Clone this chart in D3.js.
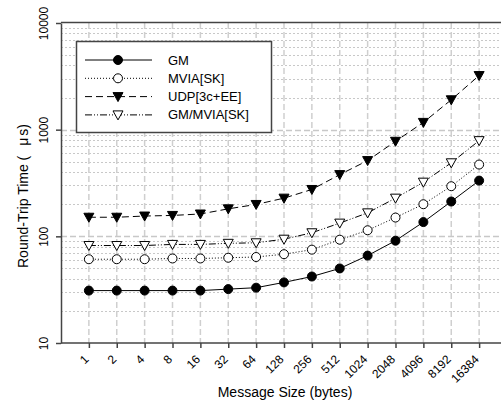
<!DOCTYPE html>
<html>
<head>
<meta charset="utf-8">
<script src="https://cdn.jsdelivr.net/npm/d3@7"></script>
<style>
  body { margin: 0; background: #fff; }
  svg { display: block; font-family: "Liberation Sans", Arial, sans-serif; }
</style>
</head>
<body>
<div id="app"></div>
<script>
const sizes = ["1", "2", "4", "8", "16", "32", "64", "128", "256", "512", "1024", "2048", "4096", "8192", "16384"];
const gm = [31, 31, 31, 31, 31, 32, 33, 37, 42, 50, 66, 91, 136, 212, 333];
const mvia = [61, 61, 61, 62, 62, 63, 64, 68, 75, 93, 114, 150, 200, 295, 471];
const udp = [151, 151, 155, 157, 162, 181, 199, 228, 275, 379, 513, 778, 1170, 1906, 3216];
const gmMvia = [82, 82, 82, 84, 84, 86, 87, 94, 108, 133, 166, 228, 322, 489, 789];
const yTicks = [10, 100, 1000, 10000];

const series = [
  { name: "GM", values: gm, dash: null, marker: "circle", fill: "#000" },
  { name: "MVIA[SK]", values: mvia, dash: "1,2", marker: "circle", fill: "#fff" },
  { name: "UDP[3c+EE]", values: udp, dash: "7,4", marker: "down", fill: "#000" },
  { name: "GM/MVIA[SK]", values: gmMvia, dash: "7,2,1,2,1,2", marker: "down", fill: "#fff" },
];

const width = 501, height = 403;
const margin = { top: 23, left: 61, bottom: 343 };

const svg = d3.select("#app").append("svg")
  .attr("width", width).attr("height", height);

const x = d3.scalePoint().domain(sizes).range([margin.left, 507]).padding(1);
const y = d3.scaleLog().domain([10, 10000]).range([margin.bottom, margin.top]);

// grid
const minor = [];
for (let d = 10; d < 10000; d *= 10) for (let k = 2; k <= 9; k++) minor.push(d * k);
svg.append("g").selectAll("line").data(minor).join("line")
  .attr("x1", margin.left).attr("x2", width)
  .attr("y1", d => Math.round(y(d)) + 0.5).attr("y2", d => Math.round(y(d)) + 0.5)
  .attr("stroke", "#c8c8c8").attr("stroke-dasharray", "2,2");
svg.append("g").selectAll("line").data(yTicks.slice(1, 3)).join("line")
  .attr("x1", margin.left).attr("x2", width)
  .attr("y1", d => Math.round(y(d)) + 0.5).attr("y2", d => Math.round(y(d)) + 0.5)
  .attr("stroke", "#c8c8c8").attr("stroke-width", 1.5).attr("stroke-dasharray", "6,3");
svg.append("g").selectAll("line").data(sizes).join("line")
  .attr("x1", d => x(d)).attr("x2", d => x(d))
  .attr("y1", margin.top).attr("y2", margin.bottom)
  .attr("stroke", "#cfcfcf").attr("stroke-width", 1.5).attr("stroke-dasharray", "6,3");

// frame
svg.append("line").attr("x1", margin.left).attr("x2", width)
  .attr("y1", margin.top - 0.5).attr("y2", margin.top - 0.5)
  .attr("stroke", "#444").attr("stroke-width", 1.5);

const xAxis = svg.append("g").attr("transform", `translate(0,${margin.bottom})`)
  .call(d3.axisBottom(x).tickSize(5).tickSizeOuter(0));
xAxis.select(".domain").attr("d", `M${margin.left},0H${width}`);
xAxis.selectAll("line, path").attr("stroke", "#444").attr("stroke-width", 1.5);
xAxis.selectAll("text")
  .attr("font-size", 12).attr("fill", "#000")
  .attr("text-anchor", "end")
  .attr("x", 0).attr("y", 0).attr("dy", null)
  .attr("transform", "translate(0,17) rotate(-45)");

const yAxis = svg.append("g").attr("transform", `translate(${margin.left},0)`)
  .call(d3.axisLeft(y).tickValues(yTicks).tickFormat(d3.format("d")).tickSize(5).tickSizeOuter(0));
yAxis.selectAll("line, path").attr("stroke", "#444").attr("stroke-width", 1.5);
yAxis.selectAll("text")
  .attr("font-size", 12).attr("fill", "#000")
  .attr("text-anchor", "middle")
  .attr("x", null).attr("dy", null)
  .attr("transform", "translate(-13,0) rotate(-90)");

// axis titles
svg.append("text").attr("x", 285).attr("y", 397)
  .attr("text-anchor", "middle").attr("font-size", 14).text("Message Size (bytes)");
const yTitle = svg.append("text")
  .attr("transform", `translate(28,196) rotate(-90)`)
  .attr("text-anchor", "middle").attr("font-size", 14);
yTitle.append("tspan").text("Round-Trip Time (");
yTitle.append("tspan").attr("dx", 10).text("μ");
yTitle.append("tspan").attr("dx", 2).text("s)");

// markers
function marker(sel, type, fill) {
  if (type === "circle") {
    sel.append("circle").attr("r", 4.5);
  } else {
    sel.append("path").attr("d", "M-5,-4L5,-4L0,5Z");
  }
  sel.selectAll("circle, path").attr("fill", fill).attr("stroke", "#000").attr("stroke-width", 1);
}

const line = d3.line().x((d, i) => x(sizes[i])).y(d => y(d));

series.forEach(s => {
  svg.append("path").datum(s.values)
    .attr("d", line).attr("fill", "none").attr("stroke", "#000").attr("stroke-width", 1)
    .attr("stroke-dasharray", s.dash);
  svg.append("g").selectAll("g").data(s.values).join("g")
    .attr("transform", (d, i) => `translate(${x(sizes[i])},${y(d)})`)
    .each(function () { marker(d3.select(this), s.marker, s.fill); });
});

// legend
const legend = svg.append("g");
legend.append("rect").attr("x", 76.5).attr("y", 41.5).attr("width", 195).attr("height", 91)
  .attr("fill", "#fff").attr("stroke", "#444").attr("stroke-width", 1.5);
series.forEach((s, i) => {
  const ly = 60 + i * 18.3;
  legend.append("line").attr("x1", 85).attr("x2", 152).attr("y1", ly).attr("y2", ly)
    .attr("stroke", "#000").attr("stroke-width", 1).attr("stroke-dasharray", s.dash);
  legend.append("g").attr("transform", `translate(118,${ly})`)
    .call(g => marker(g, s.marker, s.fill));
  legend.append("text").attr("x", 168).attr("y", ly).attr("dy", "0.35em")
    .attr("font-size", 13).text(s.name);
});
</script>
</body>
</html>
